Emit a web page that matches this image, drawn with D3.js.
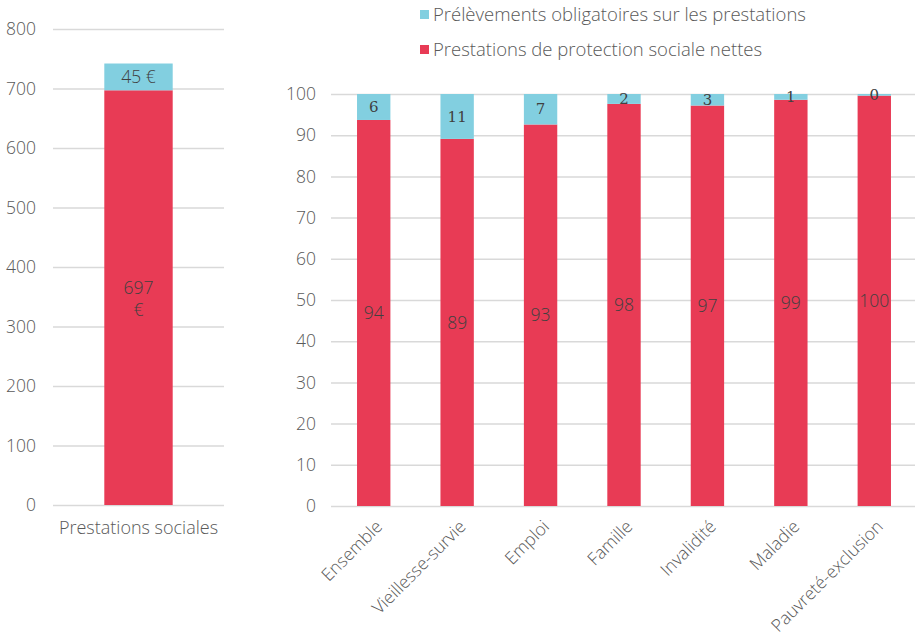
<!DOCTYPE html>
<html>
<head>
<meta charset="utf-8">
<script src="https://cdn.jsdelivr.net/npm/d3@7/dist/d3.min.js"></script>
<style>
  body { margin: 0; background: #fff; }
  svg text { font-family: "Open Sans", "Noto Sans", sans-serif; font-weight: 300; }
</style>
</head>
<body>
<div id="chart"></div>
<script>
// left panel : montants en euros
var totalCat = ["Prestations sociales"];
var totalNet = [697];
var totalPrel = [45];
var totalTicks = [0, 100, 200, 300, 400, 500, 600, 700, 800];

// right panel : parts en %
var categories = ["Ensemble", "Vieillesse-survie", "Emploi", "Famille", "Invalidité", "Maladie", "Pauvreté-exclusion"];
var netShare = [93.7, 89.1, 92.6, 97.6, 97.2, 98.6, 99.6];
var prelShare = [6.3, 10.9, 7.4, 2.4, 2.8, 1.4, 0.4];
var shareTicks = [0, 10, 20, 30, 40, 50, 60, 70, 80, 90, 100];

var seriesNames = ["Prélèvements obligatoires sur les prestations", "Prestations de protection sociale nettes"];
var RED = "#e83b55", BLUE = "#82cfe0", GRID = "#d9d9d9", TXT = "#595959", LBL = "#404040";

var svg = d3.select("#chart").append("svg")
	.attr("width", 915)
	.attr("height", 643);

//---------- left chart
var xl = d3.scaleBand().domain(totalCat).range([53, 224]).paddingInner(0.6).paddingOuter(0.3);
var yl = d3.scaleLinear().domain([0, 800]).range([505, 29]);

var gl = svg.append("g");
gl.append("g")
	.attr("transform", "translate(53,0)")
	.call(d3.axisLeft(yl).tickValues(totalTicks).tickSize(-171).tickPadding(17))
	.call(function(g) { g.select(".domain").remove(); })
	.call(function(g) {
		g.selectAll("line").attr("stroke", GRID).attr("stroke-width", 1.5);
		g.selectAll("text").attr("fill", TXT).attr("font-size", "17.5px");
	});

var leftRows = totalCat.map(function(c, i) { return {name: c, net: totalNet[i], prel: totalPrel[i]}; });

gl.selectAll(".netbar").data(leftRows).enter().append("rect")
	.attr("x", function(d) { return xl(d.name); })
	.attr("width", xl.bandwidth())
	.attr("y", function(d) { return yl(d.net); })
	.attr("height", function(d) { return yl(0) - yl(d.net); })
	.attr("fill", RED);
gl.selectAll(".prelbar").data(leftRows).enter().append("rect")
	.attr("x", function(d) { return xl(d.name); })
	.attr("width", xl.bandwidth())
	.attr("y", function(d) { return yl(d.net + d.prel); })
	.attr("height", function(d) { return yl(d.net) - yl(d.net + d.prel); })
	.attr("fill", BLUE);

// labels
leftRows.forEach(function(d) {
	var cx = xl(d.name) + xl.bandwidth() / 2;
	var t = gl.append("text")
		.attr("x", cx)
		.attr("y", (yl(0) + yl(d.net)) / 2)
		.attr("text-anchor", "middle")
		.attr("fill", LBL)
		.attr("font-size", "17.5px");
	t.append("tspan").attr("x", cx).attr("dy", "-0.2em").text(d.net);
	t.append("tspan").attr("x", cx).attr("dy", "1.25em").text("€");
	gl.append("text")
		.attr("x", cx)
		.attr("y", (yl(d.net) + yl(d.net + d.prel)) / 2)
		.attr("dy", "0.35em")
		.attr("text-anchor", "middle")
		.attr("fill", LBL)
		.attr("font-size", "17.5px")
		.text(d.prel + " €");
	gl.append("text")
		.attr("x", cx)
		.attr("y", 534)
		.attr("text-anchor", "middle")
		.attr("fill", TXT)
		.attr("font-size", "18px")
		.text(d.name);
});

//---------- right chart
var x = d3.scaleBand().domain(categories).range([332, 916]).paddingInner(0.6).paddingOuter(0.3);
var y = d3.scaleLinear().domain([0, 100]).range([506, 94]);

var gr = svg.append("g");
gr.append("g")
	.attr("transform", "translate(331,0)")
	.call(d3.axisLeft(y).tickValues(shareTicks).tickSize(-584).tickPadding(15))
	.call(function(g) { g.select(".domain").remove(); })
	.call(function(g) {
		g.selectAll("line").attr("stroke", GRID).attr("stroke-width", 1.5);
		g.selectAll("text").attr("fill", TXT).attr("font-size", "17.5px");
	});

var rows = categories.map(function(c, i) { return {name: c, net: netShare[i], prel: prelShare[i]}; });

gr.selectAll(".net").data(rows).enter().append("rect")
	.attr("class", "net")
	.attr("x", function(d) { return x(d.name); })
	.attr("width", x.bandwidth())
	.attr("y", function(d) { return y(d.net); })
	.attr("height", function(d) { return y(0) - y(d.net); })
	.attr("fill", RED);
gr.selectAll(".prel").data(rows).enter().append("rect")
	.attr("class", "prel")
	.attr("x", function(d) { return x(d.name); })
	.attr("width", x.bandwidth())
	.attr("y", function(d) { return y(d.net + d.prel); })
	.attr("height", function(d) { return y(d.net) - y(d.net + d.prel); })
	.attr("fill", BLUE);

gr.selectAll(".netlbl").data(rows).enter().append("text")
	.attr("x", function(d) { return x(d.name) + x.bandwidth() / 2; })
	.attr("y", function(d) { return (y(0) + y(d.net)) / 2; })
	.attr("dy", "0.35em")
	.attr("text-anchor", "middle")
	.attr("fill", LBL)
	.attr("font-size", "17.5px")
	.text(function(d) { return Math.round(d.net); });
gr.selectAll(".prellbl").data(rows).enter().append("text")
	.attr("x", function(d) { return x(d.name) + x.bandwidth() / 2; })
	.attr("y", function(d) { return (y(d.net) + y(d.net + d.prel)) / 2; })
	.attr("dy", "0.35em")
	.attr("text-anchor", "middle")
	.attr("fill", LBL)
	.style("font-family", "'DejaVu Serif', serif")
	.style("font-weight", "400")
	.attr("font-size", "15px")
	.text(function(d) { return Math.round(d.prel); });

// x labels, rotated
gr.selectAll(".xlbl").data(categories).enter().append("text")
	.attr("transform", function(d) {
		return "translate(" + (x(d) + x.bandwidth() / 2 + 1) + ",519) rotate(-45)";
	})
	.attr("text-anchor", "end")
	.attr("dy", "0.7em")
	.attr("fill", TXT)
	.attr("font-size", "17.5px")
	.text(function(d) { return d; });

//---------- legend
var legColors = [BLUE, RED];
var leg = svg.append("g").attr("transform", "translate(420,0)");
seriesNames.forEach(function(s, i) {
	leg.append("rect")
		.attr("x", 0).attr("y", 10 + i * 35)
		.attr("width", 9).attr("height", 9)
		.attr("fill", legColors[i]);
	leg.append("text")
		.attr("x", 13).attr("y", 21 + i * 35)
		.attr("fill", TXT)
		.attr("font-size", "18.5px")
		.text(s);
});
</script>
</body>
</html>
